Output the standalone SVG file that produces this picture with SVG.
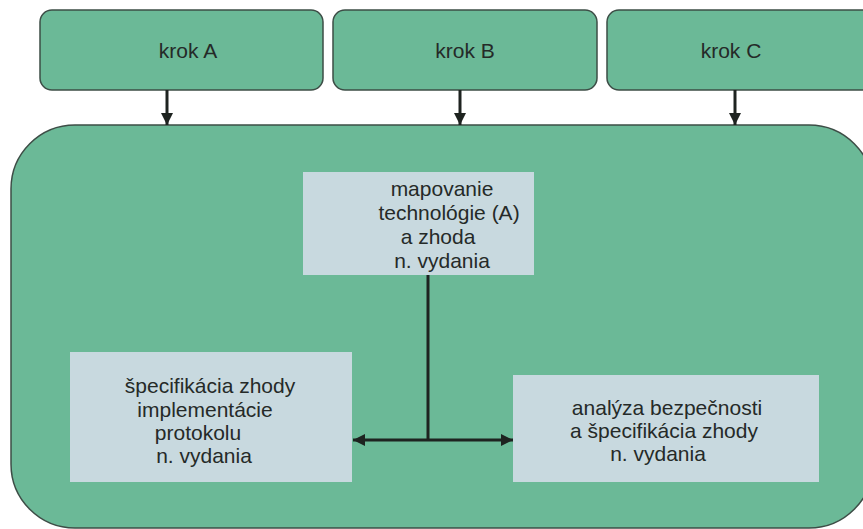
<svg xmlns="http://www.w3.org/2000/svg" width="863" height="529" viewBox="0 0 863 529">
  <defs>
    <style>
      .step { fill: #6bb997; stroke: #3d4d46; stroke-width: 1.5; }
      .panel { fill: #6bb997; stroke: #3d4d46; stroke-width: 1.5; }
      .task { fill: #c8d9df; stroke: none; }
      .lbl { font-family: "Liberation Sans", Arial, sans-serif; font-size: 21px; fill: #252a28; text-anchor: middle; }
      .wire { fill: none; stroke: #1e2320; stroke-width: 3; }
    </style>
    <marker id="tip" viewBox="0 0 10 10" refX="10" refY="5" markerWidth="4" markerHeight="4" orient="auto-start-reverse" markerUnits="strokeWidth">
      <path d="M0,0 L10,5 L0,10 Z" fill="#1e2320"/>
    </marker>
  </defs>
  <rect width="863" height="529" fill="#ffffff"/>

  <!-- outer panel -->
  <g id="panel">
    <rect class="panel" x="11" y="125" width="862" height="403" rx="64" ry="64"/>
  </g>

  <!-- step boxes -->
  <g id="krokA">
    <rect class="step" x="40" y="10" width="283" height="80" rx="12" ry="12"/>
    <text class="lbl" x="188" y="58">krok A</text>
  </g>
  <g id="krokB">
    <rect class="step" x="333" y="10" width="264" height="80" rx="12" ry="12"/>
    <text class="lbl" x="465" y="58">krok B</text>
  </g>
  <g id="krokC">
    <rect class="step" x="607" y="10" width="270" height="80" rx="12" ry="12"/>
    <text class="lbl" x="731" y="58">krok C</text>
  </g>

  <!-- task boxes -->
  <g id="mapovanie">
    <rect class="task" x="303" y="172" width="231" height="103"/>
    <text class="lbl" x="442" y="196">mapovanie</text>
    <text class="lbl" x="449" y="220">technológie (A)</text>
    <text class="lbl" x="438" y="244">a zhoda</text>
    <text class="lbl" x="442" y="268">n. vydania</text>
  </g>
  <g id="specifikacia">
    <rect class="task" x="70" y="352" width="282" height="130"/>
    <text class="lbl" x="210" y="393">špecifikácia zhody</text>
    <text class="lbl" x="205" y="417">implementácie</text>
    <text class="lbl" x="198" y="440">protokolu</text>
    <text class="lbl" x="204" y="463">n. vydania</text>
  </g>
  <g id="analyza">
    <rect class="task" x="513" y="375" width="306" height="107"/>
    <text class="lbl" x="667" y="415">analýza bezpečnosti</text>
    <text class="lbl" x="664" y="438">a špecifikácia zhody</text>
    <text class="lbl" x="658" y="461">n. vydania</text>
  </g>

  <!-- connectors -->
  <g id="connectors">
    <line class="wire" x1="167" y1="90" x2="167" y2="125" marker-end="url(#tip)"/>
    <line class="wire" x1="460" y1="90" x2="460" y2="125" marker-end="url(#tip)"/>
    <line class="wire" x1="735" y1="90" x2="735" y2="125" marker-end="url(#tip)"/>
    <line class="wire" x1="428" y1="275" x2="428" y2="441"/>
    <line class="wire" x1="353" y1="440" x2="513" y2="440" marker-start="url(#tip)" marker-end="url(#tip)"/>
  </g>
</svg>
